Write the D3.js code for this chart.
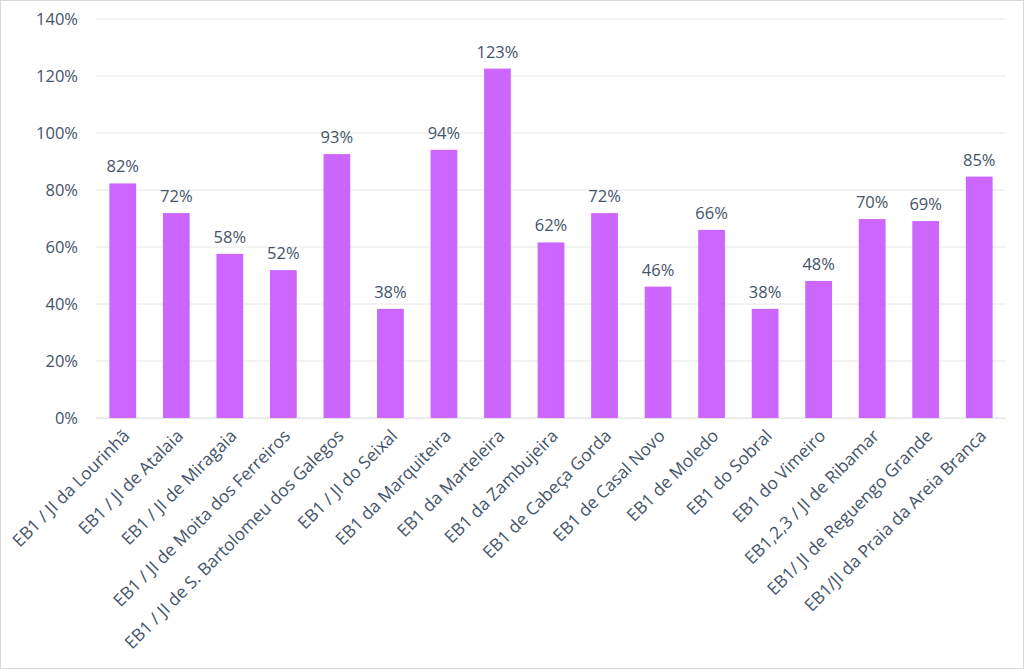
<!DOCTYPE html>
<html><head><meta charset="utf-8">
<script src="https://cdn.jsdelivr.net/npm/d3@7"></script>
<style>
html,body{margin:0;padding:0;background:#fff;}
svg{display:block;}
svg text{font-family:"Open Sans","Noto Sans",sans-serif;}
</style></head>
<body>
<svg id="c" width="1024" height="669"></svg>
<script>
const categories = ["EB1 / JI da Lourinhã","EB1 / JI de Atalaia","EB1 / JI de Miragaia","EB1 / JI de Moita dos Ferreiros","EB1 / JI de S. Bartolomeu dos Galegos","EB1 / JI do Seixal","EB1 da Marquiteira","EB1 da Marteleira","EB1 da Zambujeira","EB1 de Cabeça Gorda","EB1 de Casal Novo","EB1 de Moledo","EB1 do Sobral","EB1 do Vimeiro","EB1,2,3 / JI de Ribamar","EB1/ JI de Reguengo Grande","EB1/JI da Praia da Areia Branca"];
const values = [82.3,71.9,57.6,51.9,92.6,38.3,94.1,122.6,61.6,71.9,46.1,66.0,38.3,48.1,69.8,69.1,84.7];
const yTicks = [0,20,40,60,80,100,120,140];

const svg = d3.select("#c");
const W=1024,H=669;
const m={left:96,right:18,top:19,bottom:251};
const textColor="#44546A";
const FONT='"Open Sans","Noto Sans",sans-serif';

svg.append("rect").attr("x",0.5).attr("y",0.5).attr("width",W-1).attr("height",H-1)
  .attr("fill","#fff").attr("stroke","#d9d9d9");

const x=d3.scaleBand().domain(categories).range([m.left,W-m.right]).paddingInner(0.5).paddingOuter(0.25);
const y=d3.scaleLinear().domain([0,140]).range([H-m.bottom,m.top]);

// grid
svg.append("g").selectAll("line").data(yTicks).join("line")
  .attr("x1",m.left).attr("x2",W-m.right)
  .attr("y1",d=>y(d)).attr("y2",d=>y(d))
  .attr("stroke","#e6e6e6").attr("stroke-width",1);

// y axis
const ya=svg.append("g").attr("transform",`translate(${m.left},0)`)
  .call(d3.axisLeft(y).tickValues(yTicks).tickFormat(d=>d+"%").tickSize(0).tickPadding(18))
  .attr("font-family",FONT).attr("font-size",16.5);
ya.select(".domain").remove();
ya.selectAll("text").attr("fill",textColor);

// bars
svg.append("g").selectAll("rect").data(values).join("rect")
  .attr("x",(d,i)=>x(categories[i])).attr("width",x.bandwidth())
  .attr("y",d=>y(d)).attr("height",d=>y(0)-y(d))
  .attr("fill","#CC66FF");

// value labels
svg.append("g").attr("font-family",FONT).selectAll("text").data(values).join("text")
  .attr("x",(d,i)=>x(categories[i])+x.bandwidth()/2)
  .attr("y",d=>y(d)-11)
  .attr("text-anchor","middle").attr("fill",textColor).attr("font-size",16.5)
  .text(d=>Math.round(d)+"%");

// x axis
const xa=svg.append("g").attr("transform",`translate(0,${y(0)})`)
  .call(d3.axisBottom(x).tickSize(0).tickPadding(0))
  .attr("font-family",FONT).attr("font-size",17.3);
xa.select(".domain").attr("stroke","#e6e6e6");
xa.selectAll("text").attr("fill",textColor)
  .attr("text-anchor","end").attr("dy",0)
  .attr("transform","translate(8,19) rotate(-45)");
</script>
</body></html>
